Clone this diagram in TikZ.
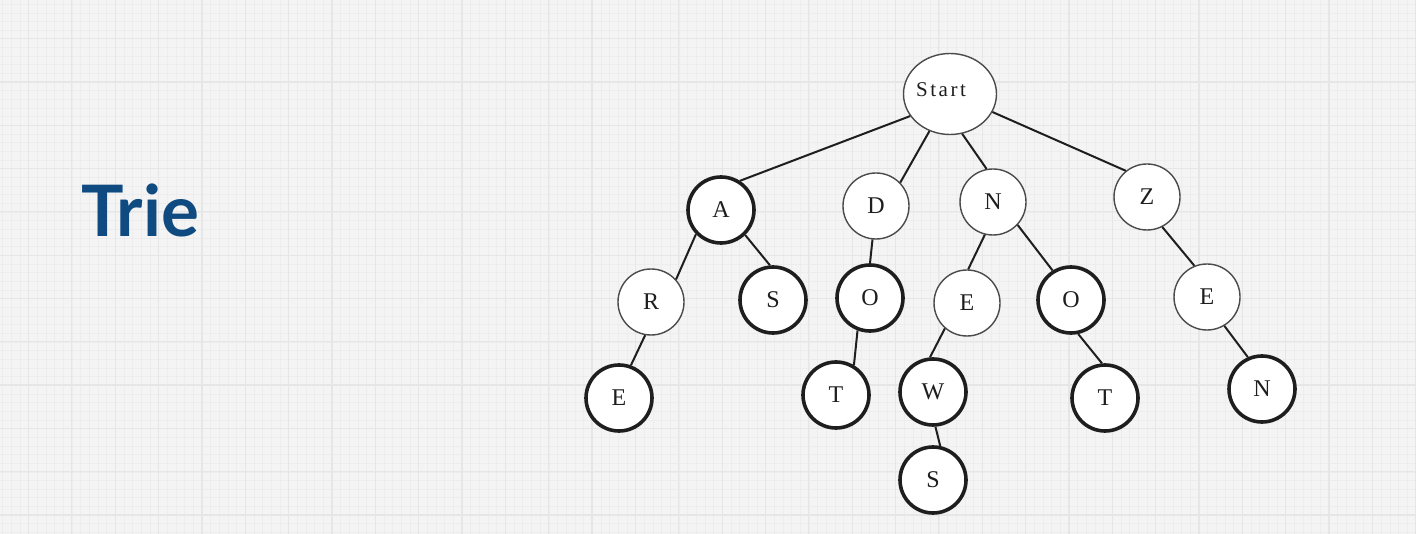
\documentclass[tikz,border=0pt]{standalone}
\usepackage{fontspec}
\setmainfont{Liberation Serif}
\newfontfamily\titlefont{Lato}
\newfontfamily\startfont{Liberation Serif}[LetterSpace=12]
\usetikzlibrary{shapes.geometric}
\definecolor{bgcol}{HTML}{F4F4F4}
\definecolor{majorcol}{HTML}{E6E6E6}
\definecolor{minorcol}{HTML}{EDEDED}
\definecolor{titleblue}{HTML}{0F4A80}
\definecolor{ink}{HTML}{1E1E1E}
\tikzset{
  trienode/.style={circle, draw=ink, fill=white, minimum size=66pt, inner sep=0pt,
    font=\fontsize{24}{24}\selectfont, text=ink},
  thin/.style={trienode, line width=1.4pt, draw=ink!80},
  thick/.style={trienode, line width=3.6pt},
  edge/.style={draw=ink, line width=2pt},
}
\begin{document}
\begin{tikzpicture}[x=1pt, y=-1pt]
\fill[bgcol] (0,0) rectangle (1416,534);
\useasboundingbox (0,0) rectangle (1416,534);
% minor grid
\foreach \i in {-5,...,165} {
  \draw[minorcol, line width=0.4pt] (28.5+8.67*\i,0) -- ++(0,534);
}
\foreach \j in {-5,...,62} {
  \draw[minorcol, line width=0.4pt] (0,38.7+8.66*\j) -- ++(1416,0);
}
% major grid
\foreach \i in {-1,...,33} {
  \draw[majorcol, line width=1.2pt] (28.5+43.35*\i,0) -- ++(0,534);
}
\foreach \j in {-1,...,12} {
  \draw[majorcol, line width=1.2pt] (0,38.7+43.3*\j) -- ++(1416,0);
}
% title
\node[anchor=base west, inner sep=0pt, text=titleblue, font=\titlefont\bfseries\fontsize{71}{71}\selectfont] (title) at (81,237) {Trie};
% nodes
\node[ellipse, draw=ink!80, fill=white, line width=1.4pt, minimum width=93pt, minimum height=81pt, inner sep=0pt] (start) at (950,94) {};
\node[inner sep=0pt, text=ink, font=\startfont\fontsize{21}{21}\selectfont] (starttext) at (941,90) {Start};
\node[thick] (A) at (721,210) {A};
\node[thin] (D) at (876,206) {D};
\node[thin] (N) at (993,202) {N};
\node[thin] (Z) at (1147,197) {Z};
\node[thin] (R) at (651,302) {R};
\node[thick] (S1) at (773,300) {S};
\node[thick] (O1) at (870,298) {O};
\node[thin] (E1) at (967,303) {E};
\node[thick] (O2) at (1071,300) {O};
\node[thin] (E2) at (1207,297) {E};
\node[thick] (E3) at (619,398) {E};
\node[thick] (T1) at (836,395) {T};
\node[thick] (W) at (933,392) {W};
\node[thick] (T2) at (1105,398) {T};
\node[thick] (N2) at (1262,389) {N};
\node[thick] (S2) at (933,480) {S};
% edges
\draw[edge] (start.209) -- (A.57);
\draw[edge] (start.241) -- (D.44);
\draw[edge] (start.-73) -- (N.101);
\draw[edge] (start.-23) -- (Z.129);
\draw[edge] (A.224) -- (R.42);
\draw[edge] (A.-46) -- (S1.95);
\draw[edge] (R.260) -- (E3.70);
\draw[edge] (D.264) -- (O1.90);
\draw[edge] (O1.249) -- (T1.59);
\draw[edge] (N.256) -- (E1.88);
\draw[edge] (N.-43) -- (O2.122);
\draw[edge] (E1.229) -- (W.95);
\draw[edge] (W.-86) -- (S2.78);
\draw[edge] (O2.-78) -- (T2.95);
\draw[edge] (Z.-63) -- (E2.112);
\draw[edge] (E2.-59) -- (N2.114);
\end{tikzpicture}
\end{document}
